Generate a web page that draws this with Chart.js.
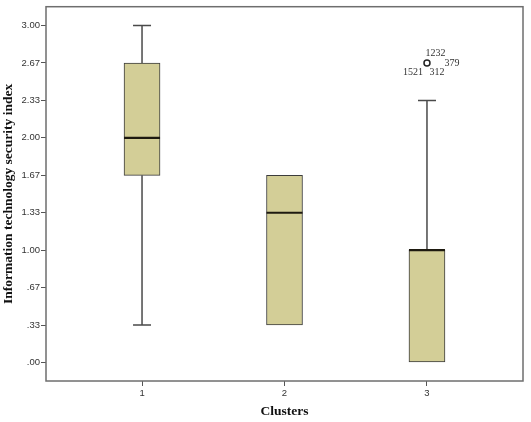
<!DOCTYPE html>
<html><head><meta charset="utf-8">
<script src="https://cdn.jsdelivr.net/npm/chart.js@4"></script>
<style>html,body{margin:0;padding:0;background:#fff}#wrap{width:531px;height:422px}</style>
</head><body><div id="wrap"><canvas id="c" width="531" height="422"></canvas></div>
<script>
// ---- data ----
const clusters = [1, 2, 3];
const clusterLabels = ['1', '2', '3'];
const whiskerLow  = [0.3333, 0.3333, 0];
const q1          = [1.6667, 0.3333, 0];
const median      = [2.0, 1.3333, 1.0];
const q3          = [2.6667, 1.6667, 1.0];
const whiskerHigh = [3.0, 1.6667, 2.3333];
const outlierCluster = [3];
const outlierValue = [2.6667];
const outlierCaseIds = ['1232', '379', '1521', '312'];
const yTickValues = [0, 0.3333, 0.6667, 1, 1.3333, 1.6667, 2, 2.3333, 2.6667, 3];
const yTickLabels = ['.00', '.33', '.67', '1.00', '1.33', '1.67', '2.00', '2.33', '2.67', '3.00'];

const serif = "'Liberation Serif', 'Times New Roman', serif";
const sans = "'Liberation Sans', Arial, sans-serif";

const boxExtras = {
  id: 'boxExtras',
  afterDatasetsDraw(chart) {
    const {ctx, scales: {x, y}} = chart;
    const halfBox = 18, halfCap = 9;
    ctx.save();
    clusters.forEach((c, i) => {
      const px = x.getPixelForValue(c);
      ctx.strokeStyle = '#4a4a4a';
      ctx.lineWidth = 1.5;
      // upper whisker
      if (whiskerHigh[i] > q3[i]) {
        const yt = y.getPixelForValue(whiskerHigh[i]);
        ctx.beginPath();
        ctx.moveTo(px, y.getPixelForValue(q3[i]));
        ctx.lineTo(px, yt);
        ctx.moveTo(px - halfCap, yt);
        ctx.lineTo(px + halfCap, yt);
        ctx.stroke();
      }
      if (whiskerLow[i] < q1[i]) {
        const yb = y.getPixelForValue(whiskerLow[i]);
        ctx.beginPath();
        ctx.moveTo(px, y.getPixelForValue(q1[i]));
        ctx.lineTo(px, yb);
        ctx.moveTo(px - halfCap, yb);
        ctx.lineTo(px + halfCap, yb);
        ctx.stroke();
      }
      // median
      const ym = y.getPixelForValue(median[i]);
      ctx.strokeStyle = '#1e1a10';
      ctx.lineWidth = 2.2;
      ctx.beginPath();
      ctx.moveTo(px - halfBox, ym);
      ctx.lineTo(px + halfBox, ym);
      ctx.stroke();
    });
    // outlier labels
    ctx.fillStyle = '#333';
    ctx.font = '10px ' + serif;
    ctx.textAlign = 'center';
    ctx.textBaseline = 'middle';
    const offs = [[8.5, -10], [25, 0], [-14, 9], [10, 9]];
    outlierCluster.forEach((c, k) => {
      const px = x.getPixelForValue(c);
      const py = y.getPixelForValue(outlierValue[k]);
      outlierCaseIds.forEach((id, j) => {
        ctx.fillText(id, px + offs[j][0], py + offs[j][1]);
      });
    });
    // frame
    const a = chart.chartArea;
    ctx.strokeStyle = '#6e6e6e';
    ctx.lineWidth = 1.5;
    ctx.strokeRect(a.left, a.top, a.right - a.left, a.bottom - a.top);
    ctx.restore();
  }
};

new Chart(document.getElementById('c'), {
  type: 'bar',
  data: {
    datasets: [
      {
        type: 'bar',
        data: clusters.map((c, i) => ({x: c, y: [q1[i], q3[i]]})),
        backgroundColor: '#d3ce97',
        borderColor: '#3c3c3c',
        borderWidth: 1,
        borderSkipped: false,
        barThickness: 36,
        grouped: false,
        order: 2
      },
      {
        type: 'scatter',
        data: outlierCluster.map((c, k) => ({x: c, y: outlierValue[k]})),
        pointRadius: 3,
        pointBorderWidth: 1.5,
        borderColor: '#222',
        backgroundColor: '#fff',
        order: 1
      }
    ]
  },
  options: {
    responsive: false,
    animation: false,
    devicePixelRatio: 1,
    layout: {padding: {top: 4, right: 8, left: 0, bottom: 0}},
    plugins: {legend: {display: false}, tooltip: {enabled: false}},
    scales: {
      x: {
        type: 'linear',
        offset: false,
        min: 0.326, max: 3.674,
        afterBuildTicks: s => { s.ticks = clusters.map(v => ({value: v})); },
        afterFit: s => { s.height = 41; },
        grid: {display: true, offset: false, drawOnChartArea: false, drawTicks: true, tickLength: 5, color: '#555', lineWidth: 1},
        border: {display: false},
        ticks: {autoSkip: false, maxRotation: 0, padding: 2, color: '#333', font: {family: sans, size: 9.5},
          callback: (v, i) => clusterLabels[i]},
        title: {display: true, text: 'Clusters', color: '#111', padding: {top: 0, bottom: 2},
          font: {family: serif, size: 13.5, weight: 'bold'}}
      },
      y: {
        type: 'linear',
        min: -0.165, max: 3.168,
        afterBuildTicks: s => { s.ticks = yTickValues.map(v => ({value: v})); },
        afterFit: s => { s.width = 46; },
        grid: {display: true, drawOnChartArea: false, drawTicks: true, tickLength: 5, color: '#555', lineWidth: 1},
        border: {display: false},
        ticks: {autoSkip: false, padding: 1, color: '#333', font: {family: sans, size: 9.5},
          callback: (v, i) => yTickLabels[i]},
        title: {display: true, text: 'Information technology security index', color: '#111', padding: {top: 0, bottom: 0},
          font: {family: serif, size: 13.5, weight: 'bold'}}
      }
    }
  },
  plugins: [boxExtras]
});
</script>
</body></html>
